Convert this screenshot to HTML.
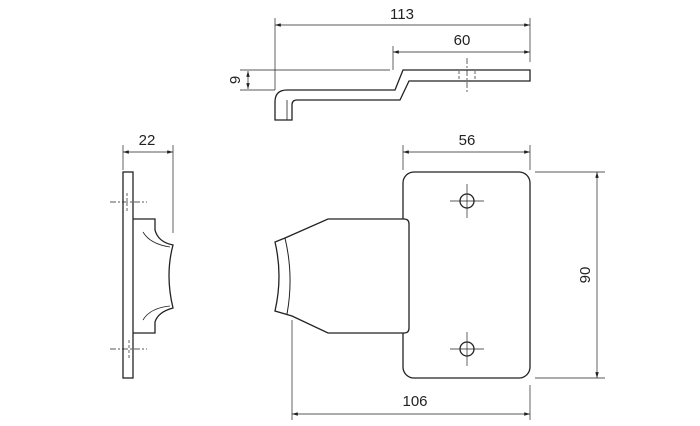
<!DOCTYPE html>
<html><head><style>body{margin:0;background:#fff}svg{display:block}</style></head><body>
<svg width="700" height="426" viewBox="0 0 700 426" xmlns="http://www.w3.org/2000/svg" font-family="Liberation Sans, sans-serif" font-size="15" fill="none" stroke="#222">
<defs><marker id="a" viewBox="0 0 10 6" refX="10" refY="3" markerWidth="14" markerHeight="5" orient="auto-start-reverse"><path d="M0,0L10,3L0,6Z" fill="#222" stroke="none"/></marker></defs>
<g stroke-width="0.7">
<line x1="275" y1="18" x2="275" y2="90"/><line x1="530" y1="18" x2="530" y2="62"/>
<line x1="275" y1="25" x2="530" y2="25" marker-start="url(#a)" marker-end="url(#a)"/>
<line x1="393" y1="46" x2="393" y2="70"/>
<line x1="393" y1="52" x2="530" y2="52" marker-start="url(#a)" marker-end="url(#a)"/>
<line x1="240" y1="70" x2="390" y2="70"/><line x1="240" y1="90" x2="275" y2="90"/>
<line x1="248" y1="71" x2="248" y2="89" marker-start="url(#a)" marker-end="url(#a)"/>
<line x1="467" y1="58" x2="467" y2="92" stroke-dasharray="6,2,2,2"/>
<line x1="459" y1="71" x2="459" y2="80" stroke-dasharray="3,2"/><line x1="475" y1="71" x2="475" y2="80" stroke-dasharray="3,2"/>
<line x1="123" y1="145" x2="123" y2="170"/><line x1="173" y1="145" x2="173" y2="233"/>
<line x1="123" y1="152" x2="173" y2="152" marker-start="url(#a)" marker-end="url(#a)"/>
<line x1="110" y1="202" x2="147" y2="202" stroke-dasharray="6,2,2,2"/>
<line x1="110" y1="349" x2="147" y2="349" stroke-dasharray="6,2,2,2"/>
<line x1="127" y1="193" x2="127" y2="211" stroke-dasharray="3,2"/><line x1="129" y1="340" x2="129" y2="358" stroke-dasharray="3,2"/>
<line x1="133" y1="219" x2="133" y2="333" stroke-dasharray="5,3"/>
<line x1="403" y1="145" x2="403" y2="170"/><line x1="530" y1="145" x2="530" y2="170"/>
<line x1="403" y1="152" x2="530" y2="152" marker-start="url(#a)" marker-end="url(#a)"/>
<line x1="535" y1="172" x2="605" y2="172"/><line x1="535" y1="378" x2="605" y2="378"/>
<line x1="597" y1="172" x2="597" y2="378" marker-start="url(#a)" marker-end="url(#a)"/>
<line x1="292" y1="320" x2="292" y2="420"/><line x1="530" y1="385" x2="530" y2="420"/>
<line x1="292" y1="414" x2="530" y2="414" marker-start="url(#a)" marker-end="url(#a)"/>
<line x1="450" y1="201" x2="484" y2="201"/><line x1="467" y1="184" x2="467" y2="218"/>
<line x1="450" y1="349" x2="484" y2="349"/><line x1="467" y1="332" x2="467" y2="366"/>
</g>
<g stroke-width="1.3">
<path d="M530,70 L403,70 L395,90 L287,90 Q275,90 275,102 L275,120 L292,120 L292,105 Q292,100 297,100 L400,100 L409,81 L530,81 Z"/>
<line x1="287" y1="100" x2="287" y2="120" stroke-width="0.8"/>
<rect x="123" y="172" width="10" height="206"/>
<path d="M133,219 L155,219 L155,230 Q158,242 173,245 Q165,275 173,308 Q158,312 155,322 L155,333 L133,333"/>
<path d="M143,232 Q150,244 170,247" stroke-width="0.8"/><path d="M143,320 Q150,308 170,306" stroke-width="0.8"/>
<rect x="403" y="172" width="127" height="206" rx="11"/>
<path d="M409,224 Q409,219 404,219 L328,219 L285,238 L275,242 Q283,276 275,311 L292,316 L328,333 L404,333 Q409,333 409,328 Z" fill="#fff"/>
<path d="M285,238 Q294,276 287,314" stroke-width="1"/>
<circle cx="467" cy="201" r="7"/><circle cx="467" cy="349" r="7"/>
</g>
<g fill="#222" stroke="none" text-anchor="middle">
<text x="402" y="19">113</text><text x="462" y="45">60</text>
<text x="147" y="145">22</text><text x="467" y="145">56</text>
<text x="415" y="406">106</text>
<text transform="translate(240,80) rotate(-90)">9</text>
<text transform="translate(590,275) rotate(-90)">90</text>
</g>
</svg>
</body></html>
